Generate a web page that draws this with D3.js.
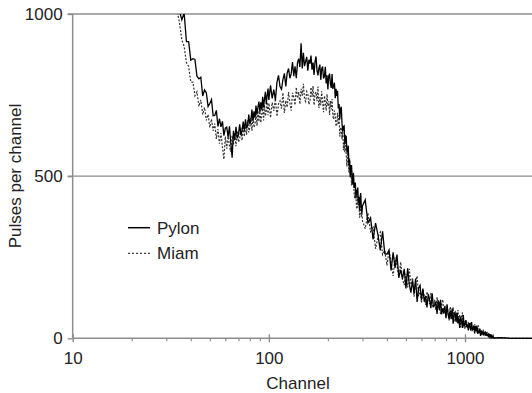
<!DOCTYPE html>
<html><head><meta charset="utf-8">
<script src="https://cdn.jsdelivr.net/npm/d3@7"></script>
<style>
body{margin:0;background:#fff}
svg{display:block}
text{font-family:"Liberation Sans",Arial,sans-serif;fill:#222}
</style>
</head><body>
<svg id="c" width="532" height="393"></svg>
<script>
// Channel groups (x values)
const chanA = d3.range(33, 101, 1);      // 33..100
const chanB = d3.range(102, 301, 2);     // 102..300
const chanC = d3.range(310, 1401, 10);   // 310..1400
const chanD = d3.range(1500, 2201, 100); // 1500..2200
const channels = [...chanA, ...chanB, ...chanC, ...chanD];

// Pylon (solid)
const pylonA = [1080,1040,1010,982,1003,
  915,915,858,862,860,808,800,805,747,766,
  757,715,724,736,686,687,703,653,677,652,
  669,625,648,651,621,654,600,557,640,612,
  652,617,628,660,626,640,668,640,675,650,
  655,690,660,672,705,670,700,680,718,690,
  712,730,698,728,705,745,712,738,760,722,
  748,770,735];
const pylonB = [780,740,767,735,789,811,776,768,798,817,
  777,818,832,802,816,852,808,839,802,850,
  862,837,910,832,880,839,854,868,825,859,
  847,872,828,850,812,854,869,826,811,833,
  844,797,831,838,801,808,837,786,811,767,
  809,816,785,772,815,769,779,788,740,769,
  747,763,709,722,675,708,714,663,639,653,
  655,599,624,622,576,574,594,534,550,497,
  532,532,494,474,510,463,472,480,431,459,
  443,465,417,436,395,435,448,404,387,408];
const pylonC = [427,356,371,305,355,319,271,330,261,259,
  272,209,265,217,258,188,211,183,214,154,
  216,167,141,179,138,184,112,155,163,118,
  153,113,131,95,136,119,93,139,98,101,
  113,75,117,87,119,74,92,76,100,62,
  105,74,59,86,59,92,45,75,80,51,
  79,46,62,32,67,54,32,72,38,42,
  56,34,43,24,47,37,24,50,26,30,
  37,15,38,22,39,14,24,16,29,7,
  24,14,18,9,19,15,8,19,9,9,
  12,3,13,5,12,2,6,3,8,1];
const pylonD = [2,1,0,0,0,0,0,0];

// Miam (dotted)
const miamA = [1060,1010,975,920,900,850,838,790,790,748,
  760,715,735,690,712,672,690,650,676,640,
  662,615,645,600,633,590,552,622,585,628,
  590,575,625,598,630,592,640,605,615,650,
  610,655,622,660,628,672,635,650,680,640,
  688,650,660,695,655,702,668,705,665,690,
  715,672,720,685,700,728,688,725];
const miamB = [680,727,701,739,684,723,732,708,757,695,
  733,712,759,726,702,757,744,719,774,740,
  759,722,769,748,785,737,730,761,753,721,
  731,774,744,778,719,754,759,731,776,710,
  744,719,762,725,697,748,731,702,753,716,
  731,689,732,706,738,686,675,702,690,654,
  658,695,659,687,622,650,649,614,653,580,
  607,574,610,565,530,573,548,511,554,509,
  518,471,508,476,503,447,432,455,439,399,
  404,442,407,436,372,404,406,375,397,363];
const miamC = [338,386,329,342,276,312,327,258,271,225,
  270,234,192,249,226,186,235,182,164,199,
  157,214,165,187,128,171,192,130,149,109,
  151,129,103,144,131,105,140,105,94,119,
  87,127,96,113,74,104,120,79,92,66,
  100,80,55,97,85,60,96,62,52,78,
  47,87,56,73,34,64,80,39,53,28,
  54,45,33,51,45,33,50,33,28,41,
  26,44,28,37,18,32,40,20,26,14,
  26,21,16,24,21,15,22,14,11,16,
  9,17,10,13,4,10,12,4,6,0];
const miamD = [2,1,0,0,0,0,0,0];

const pylon = [...pylonA, ...pylonB, ...pylonC, ...pylonD];
const miam = [...miamA, ...miamB, ...miamC, ...miamD];

const yTicks = [0, 500, 1000];
const xMajor = [10, 100, 1000];
const xMinor = [20,30,40,50,60,70,80,90,200,300,400,500,600,700,800,900];
const seriesNames = ["Pylon", "Miam"];

const svg = d3.select("#c");
const pL = 72.7, pR = 532, pT = 14, pB = 338.3;
const x = d3.scaleLog().domain([10, 1000]).range([pL, 465]);
const y = d3.scaleLinear().domain([0, 1000]).range([pB, pT]);
const axisColor = "#8e8e8e";

// gridlines
svg.append("g").selectAll("line").data(yTicks.filter(d => d > 0)).join("line")
  .attr("x1", pL - 5).attr("x2", pR)
  .attr("y1", d => y(d)).attr("y2", d => y(d))
  .attr("stroke", axisColor).attr("stroke-width", 1.4);

// y axis
const yAxis = svg.append("g").attr("transform", `translate(${pL},0)`)
  .call(d3.axisLeft(y).tickValues(yTicks).tickSize(5).tickPadding(5).tickFormat(d3.format("d")));
yAxis.select(".domain").remove();
yAxis.selectAll("line").attr("stroke", axisColor).attr("stroke-width", 1.4);
yAxis.selectAll("text").style("font-size", "17px").attr("fill", "#222");
svg.append("line").attr("x1", pL).attr("x2", pL).attr("y1", pT).attr("y2", pB)
  .attr("stroke", axisColor).attr("stroke-width", 1.5);

// x axis
svg.append("line").attr("x1", pL).attr("x2", pR).attr("y1", pB).attr("y2", pB)
  .attr("stroke", axisColor).attr("stroke-width", 1.5);
const xMin = svg.append("g").attr("transform", `translate(0,${pB})`)
  .call(d3.axisBottom(x).tickValues(xMinor).tickSize(3).tickFormat(""));
xMin.select(".domain").remove();
xMin.selectAll("line").attr("stroke", axisColor).attr("stroke-width", 1.2);
const xMaj = svg.append("g").attr("transform", `translate(0,${pB})`)
  .call(d3.axisBottom(x).tickValues(xMajor).tickSize(4).tickPadding(10).tickFormat(d3.format("d")));
xMaj.select(".domain").remove();
xMaj.selectAll("line").attr("y1", -4).attr("stroke", axisColor).attr("stroke-width", 1.4);
xMaj.selectAll("text").style("font-size", "17px").attr("fill", "#222");

// axis titles
svg.append("text").attr("x", 298).attr("y", 389).attr("text-anchor", "middle")
  .style("font-size", "17px").text("Channel");
svg.append("text").attr("transform", "translate(21,176) rotate(-90)").attr("text-anchor", "middle")
  .style("font-size", "17px").text("Pulses per channel");

// clip
svg.append("clipPath").attr("id", "clip").append("rect")
  .attr("x", pL).attr("y", pT).attr("width", pR - pL).attr("height", pB - pT + 2);

const line = d3.line().x(d => x(d[0])).y(d => y(d[1]));
const plot = svg.append("g").attr("clip-path", "url(#clip)");
plot.append("path").datum(channels.map((c, i) => [c, miam[i]]))
  .attr("d", line).attr("fill", "none").attr("stroke", "#333")
  .attr("stroke-width", 1.2).attr("stroke-dasharray", "2,1.6");
plot.append("path").datum(channels.map((c, i) => [c, pylon[i]]))
  .attr("d", line).attr("fill", "none").attr("stroke", "#000")
  .attr("stroke-width", 1.3);

// legend
const leg = svg.append("g");
leg.append("line").attr("x1", 128).attr("x2", 150).attr("y1", 227.7).attr("y2", 227.7)
  .attr("stroke", "#000").attr("stroke-width", 1.5);
leg.append("text").attr("x", 157).attr("y", 233.5).style("font-size", "17px").text(seriesNames[0]);
leg.append("line").attr("x1", 128).attr("x2", 150).attr("y1", 253.3).attr("y2", 253.3)
  .attr("stroke", "#444").attr("stroke-width", 1.2).attr("stroke-dasharray", "2,2");
leg.append("text").attr("x", 157).attr("y", 259.3).style("font-size", "17px").text(seriesNames[1]);
</script>
</body></html>
